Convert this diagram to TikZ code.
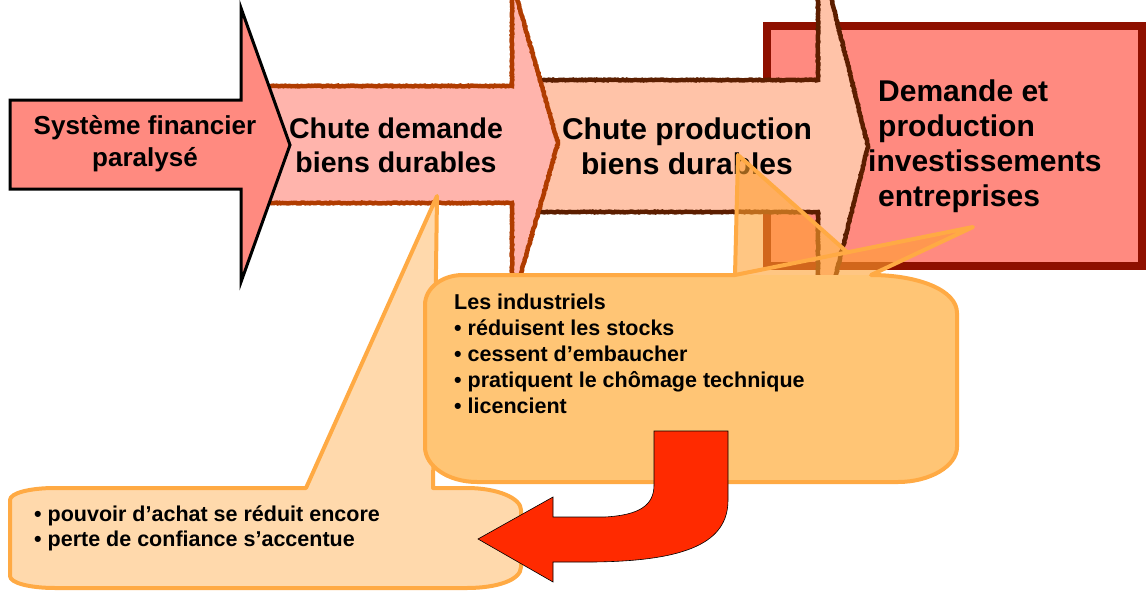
\documentclass[tikz,border=0pt]{standalone}
\usepackage{fontspec}
\setmainfont{Liberation Sans}
\usetikzlibrary{decorations.pathmorphing}

\definecolor{salmon}{HTML}{FF8A80}
\definecolor{pinkarrow}{HTML}{FFB4AC}
\definecolor{peacharrow}{HTML}{FFC3A8}
\definecolor{rust}{HTML}{B03C00}
\definecolor{darkbrown}{HTML}{5C1E00}
\definecolor{boxred}{HTML}{8E1000}
\definecolor{calloutfill}{HTML}{FFA030}
\definecolor{calloutbody}{HTML}{FFC575}
\definecolor{calloutline}{HTML}{FFAA44}
\definecolor{hookred}{HTML}{FF2A00}

\tikzset{
  rough/.style={decorate, decoration={random steps, segment length=1.5pt, amplitude=.45pt}},
  arrowtext/.style={inner sep=0pt, align=center, text=black},
  calltext/.style={inner sep=0pt, align=left, anchor=west, text=black,
    font=\bfseries\fontsize{21.5}{26}\selectfont},
  callline/.style={draw=calloutline, line width=4pt, line join=round},
}

\begin{document}
\begin{tikzpicture}[x=1pt,y=-1pt]
\useasboundingbox (0,0) rectangle (1146,602);
\clip (0,0) rectangle (1146,602);

% result box
\draw[fill=salmon, draw=boxred, line width=8pt] (767,26) rectangle (1142,266);
\node[arrowtext, align=left, anchor=west, font=\bfseries\fontsize{30}{35}\selectfont]
  (result) at (878,146) {Demande et\\production\\\hspace*{-10pt}investissements\\entreprises};

% third arrow
\fill[peacharrow] (525,80) -- (818,80) -- (818,-55) -- (868,146) -- (818,347) -- (818,212) -- (525,212) -- cycle;
\draw[rough, draw=darkbrown, line width=4.5pt] (525,80) -- (818,80) -- (818,-55) -- (868,146)
  -- (818,347) -- (818,212) -- (525,212) -- cycle;
\node[arrowtext, font=\bfseries\fontsize{30}{35}\selectfont]
  (production) at (687,146) {Chute production\\biens durables};

% second arrow
\fill[pinkarrow] (255,86) -- (512,86) -- (512,-19) -- (558,143) -- (512,305) -- (512,203) -- (255,203) -- cycle;
\draw[rough, draw=rust, line width=4.5pt] (255,86) -- (512,86) -- (512,-19) -- (558,143)
  -- (512,305) -- (512,203) -- (255,203) -- cycle;
\node[arrowtext, font=\bfseries\fontsize{28.5}{34}\selectfont]
  (demande) at (396,145) {Chute demande\\biens durables};

% first arrow
\draw[fill=salmon, draw=black, line width=3pt, line join=miter]
  (10,100) -- (241,100) -- (241,8) -- (290,145) -- (241,282) -- (241,189) -- (10,189) -- cycle;
\node[arrowtext, font=\bfseries\fontsize{26}{32}\selectfont]
  (systeme) at (145,144) {Système financier\\paralysé};

% lower callout
\fill[calloutfill, fill opacity=.4] (306,488) -- (437,196) -- (433,488) -- (467,488)
  .. controls (497,488) and (521,498) .. (521,510) -- (521,567)
  .. controls (521,580) and (497,588) .. (467,588) -- (55,588)
  .. controls (30,588) and (10,583) .. (10,576) -- (10,500)
  .. controls (10,493) and (30,488) .. (55,488) -- cycle;
\draw[callline] (306,488) -- (437,196) -- (433,488) -- (467,488)
  .. controls (497,488) and (521,498) .. (521,510) -- (521,567)
  .. controls (521,580) and (497,588) .. (467,588) -- (55,588)
  .. controls (30,588) and (10,583) .. (10,576) -- (10,500)
  .. controls (10,493) and (30,488) .. (55,488) -- cycle;

% middle callout: see-through tails, solid body
\fill[calloutfill, fill opacity=.6] (735,275) -- (973,227) -- (871,275) -- cycle
  (735,275) -- (738,155) -- (873,275) -- cycle;
\fill[calloutbody] (871,275)
  .. controls (918,275) and (957,290) .. (957,313) -- (957,447)
  .. controls (957,466) and (930,482) .. (898,482) -- (477,482)
  .. controls (448,482) and (425,466) .. (425,447) -- (425,305)
  .. controls (425,288) and (442,275) .. (463,275) -- cycle;
\draw[callline] (735,275) -- (973,227) -- (871,275)
  .. controls (918,275) and (957,290) .. (957,313) -- (957,447)
  .. controls (957,466) and (930,482) .. (898,482) -- (477,482)
  .. controls (448,482) and (425,466) .. (425,447) -- (425,305)
  .. controls (425,288) and (442,275) .. (463,275) -- cycle;
\draw[callline] (735,275) -- (738,155) -- (847,252);

% hook arrow
\draw[fill=hookred, draw=black, line width=.6pt, line join=miter]
  (654,431) -- (728,431) -- (728,500) .. controls (728,542) and (688,561) .. (593,562)
  -- (553,562) -- (553,582) -- (478,539) -- (553,497) -- (553,517) -- (605,517)
  .. controls (640,515) and (654,505) .. (654,485) -- cycle;

% callout texts
\node[calltext] (industriels) at (454,354) {Les industriels\\• réduisent les stocks\\%
  • cessent d’embaucher\\• pratiquent le chômage technique\\• licencient};
\node[calltext, font=\bfseries\fontsize{21.5}{25}\selectfont] (pouvoir) at (34,528)
  {• pouvoir d’achat se réduit encore\\• perte de confiance s’accentue};
\end{tikzpicture}
\end{document}
